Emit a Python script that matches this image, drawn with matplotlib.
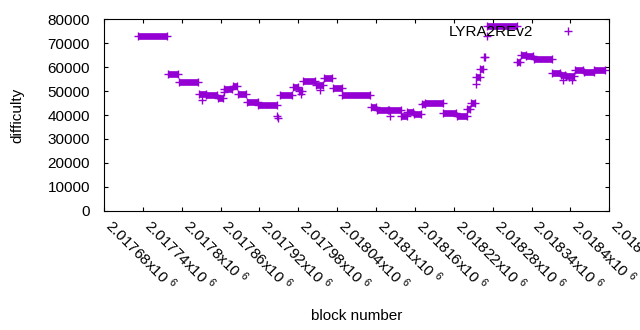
import numpy as np
import matplotlib
matplotlib.use("Agg")
import matplotlib.pyplot as plt

plt.rcParams['font.family'] = ['Liberation Sans', 'DejaVu Sans']
plt.rcParams['mathtext.fontset'] = 'custom'
plt.rcParams['mathtext.rm'] = 'Liberation Sans'
plt.rcParams['mathtext.it'] = 'Liberation Sans'

color = '#9400d3'

# runs of blocks with the same difficulty (first block, last block, difficulty)
seg_start = [2017733, 2017779, 2017796, 2017826, 2017838, 2017856, 2017865, 2017879,
             2017887, 2017900, 2017918, 2017951, 2017971, 2017981, 2017987, 2018007,
             2018019, 2018033, 2018048, 2018092, 2018101, 2018120, 2018139, 2018148,
             2018158, 2018171, 2018176, 2018204, 2018225, 2018241, 2018246, 2018255,
             2018261, 2018266, 2018272, 2018318, 2018323, 2018332, 2018344, 2018372,
             2018385, 2018393, 2018407, 2018421, 2018437]
seg_end = [2017778, 2017795, 2017825, 2017837, 2017855, 2017864, 2017878, 2017886,
           2017899, 2017917, 2017947, 2017970, 2017980, 2017986, 2018006, 2018018,
           2018032, 2018047, 2018091, 2018100, 2018119, 2018138, 2018147, 2018157,
           2018170, 2018175, 2018203, 2018224, 2018240, 2018245, 2018253, 2018260,
           2018265, 2018268, 2018317, 2018322, 2018331, 2018343, 2018371, 2018384,
           2018392, 2018405, 2018420, 2018436, 2018453]
seg_diff = [73200, 57000, 53700, 48700, 48200, 46900, 50700, 52000,
            48800, 45300, 44000, 48400, 51700, 50000, 54100, 52700,
            55300, 51100, 48200, 43500, 42100, 42000, 39700, 41200,
            40400, 44600, 44900, 40700, 39700, 42600, 45200, 55900,
            59300, 64100, 77100, 62000, 65100, 64500, 63300, 57700,
            56700, 56300, 58900, 58100, 58800]

# single blocks off the runs
pt_block = [2017832, 2017866, 2017947, 2017948, 2017984, 2018014, 2018121,
            2018254, 2018271, 2018389, 2018403, 2018398]
pt_diff = [46300, 49800, 39700, 38900, 48600, 50400, 39600,
           52800, 73000, 54500, 54700, 55800]

xticks = [2017680, 2017740, 2017800, 2017860, 2017920, 2017980, 2018040,
          2018100, 2018160, 2018220, 2018280, 2018340, 2018400, 2018460]
yticks = [0, 10000, 20000, 30000, 40000, 50000, 60000, 70000, 80000]

fig = plt.figure(figsize=(6.4, 3.3), dpi=100)
ax = fig.add_axes([0.1625, 0.3615, 0.7895, 0.58])

ax.hlines(seg_diff, seg_start, seg_end, colors=color, linewidth=4.8, capstyle='butt')
ax.plot(seg_start + seg_end, seg_diff + seg_diff, '+', color=color, ms=5.5, mew=1.0, ls='none')
ax.plot(pt_block, pt_diff, '+', color=color, ms=5.5, mew=1.0, ls='none', label='LYRA2REv2')

ax.set_xlim(2017680, 2018460)
ax.set_ylim(0, 80000)
ax.set_xticks(xticks)
ax.set_xticklabels(['%gx10 $^{6}$' % (t / 1e6) for t in xticks],
                   rotation=-45, ha='left', va='baseline', rotation_mode='anchor')
ax.set_yticks(yticks)
ax.tick_params(direction='in', top=True, right=True, length=3, width=0.8, labelsize=11)
ax.tick_params(axis='y', pad=10)
ax.tick_params(axis='x', pad=12)
for s in ax.spines.values():
    s.set_linewidth(0.8)

ax.set_xlabel('block number', fontsize=11)
ax.xaxis.set_label_coords(0.5, -0.515)
ax.set_ylabel('difficulty', fontsize=11)
ax.yaxis.set_label_coords(-0.158, 0.5)

ax.legend(loc='center right', bbox_to_anchor=(0.948, 0.932), frameon=False,
          markerfirst=False, fontsize=11, borderpad=0, borderaxespad=0,
          handlelength=2, handletextpad=1.25)

fig.savefig('out.png', dpi=100)
